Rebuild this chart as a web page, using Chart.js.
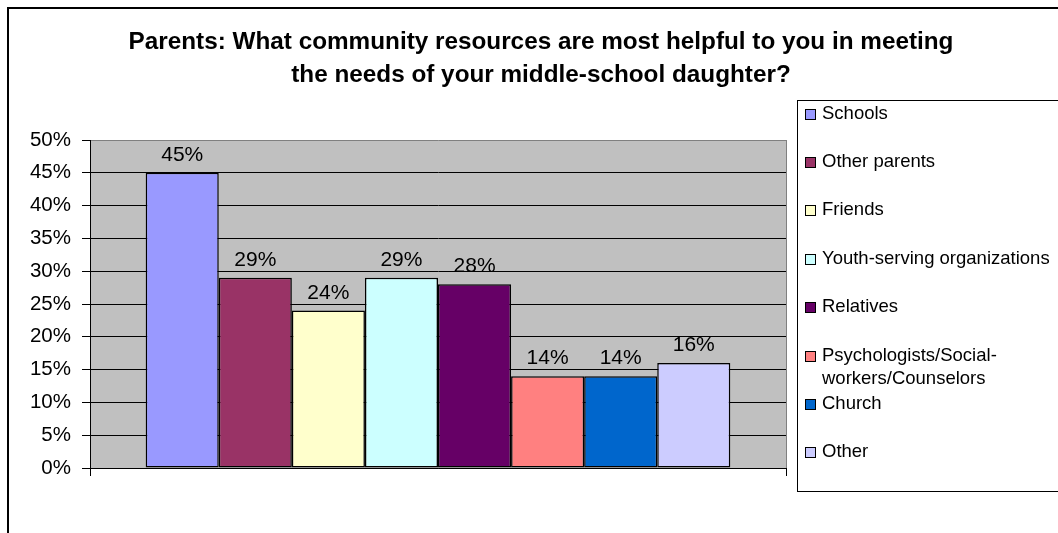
<!DOCTYPE html>
<html>
<head>
<meta charset="utf-8">
<script src="https://cdn.jsdelivr.net/npm/chart.js@4.4.1/dist/chart.umd.min.js"></script>
<style>
html, body { margin: 0; padding: 0; background: #fff; }
#wrap { width: 1058px; height: 533px; }
</style>
</head>
<body>
<div id="wrap"><canvas id="resChart" width="1058" height="533"></canvas></div>
<script>
var titleLines = ['Parents: What community resources are most helpful to you in meeting',
                  'the needs of your middle-school daughter?'];
var resources = ['Schools', 'Other parents', 'Friends', 'Youth-serving organizations', 'Relatives',
                 'Psychologists/Social-workers/Counselors', 'Church', 'Other'];
var percents = [45, 29, 24, 29, 28, 14, 14, 16];
var barColors = ['#9999FF', '#993366', '#FFFFCC', '#CCFFFF', '#660066', '#FF8080', '#0066CC', '#CCCCFF'];
var yMax = 50;
var yStep = 5;

var FONT = '"Liberation Sans", Arial, sans-serif';
Chart.defaults.font.family = FONT;
Chart.defaults.color = '#000';

// grey plot area like the old Excel charts
var plotBackground = {
    id: 'plotBackground',
    beforeDraw: function(chart) {
        var a = chart.chartArea, c = chart.ctx;
        c.save();
        c.fillStyle = '#C0C0C0';
        c.fillRect(a.left, a.top, a.right - a.left, a.bottom - a.top);
        c.restore();
    }
};

// value labels above the bars
var valueLabels = {
    id: 'valueLabels',
    afterDatasetsDraw: function(chart) {
        var c = chart.ctx;
        c.save();
        c.font = '21px ' + FONT;
        c.fillStyle = '#000';
        c.textAlign = 'center';
        c.textBaseline = 'alphabetic';
        chart.data.datasets.forEach(function(ds, i) {
            var bar = chart.getDatasetMeta(i).data[0];
            c.fillText(ds.data[0] + '%', bar.x, bar.y - 12);
        });
        c.restore();
    }
};

function wrapLabel(c, text, maxW) {
    var parts = text.match(/[^-\s]+[-\s]?/g), lines = [], cur = '';
    parts.forEach(function(p) {
        if (cur && c.measureText(cur + p).width > maxW) { lines.push(cur.trim()); cur = p; }
        else cur += p;
    });
    lines.push(cur.trim());
    return lines;
}

// title, outer frame and the boxed legend on the right
var frameAndLegend = {
    id: 'frameAndLegend',
    afterDraw: function(chart) {
        var c = chart.ctx;
        c.save();
        c.strokeStyle = '#000';
        c.lineWidth = 2;
        c.beginPath();
        c.moveTo(8, 533); c.lineTo(8, 8); c.lineTo(1058, 8);
        c.stroke();

        c.font = 'bold 24.3px ' + FONT;
        c.fillStyle = '#000';
        c.textAlign = 'center';
        c.textBaseline = 'alphabetic';
        c.fillText(titleLines[0], 541, 49);
        c.fillText(titleLines[1], 541, 82);

        c.lineWidth = 1;
        c.strokeRect(797.5, 100.5, 300, 391);
        c.font = '18.5px ' + FONT;
        c.textAlign = 'left';
        c.textBaseline = 'middle';
        chart.data.datasets.forEach(function(ds, i) {
            var cy = 113.5 + i * 48.4;
            c.fillStyle = ds.backgroundColor;
            c.fillRect(805, Math.round(cy) - 5, 11, 11);
            c.strokeStyle = '#000';
            c.strokeRect(805.5, Math.round(cy) - 4.5, 10, 10);
            c.fillStyle = '#000';
            wrapLabel(c, ds.label, 234).forEach(function(line, k) {
                c.fillText(line, 822, cy + k * 23);
            });
        });
        c.restore();
    }
};

var ctx = document.getElementById('resChart').getContext('2d');
var chart = new Chart(ctx, {
    type: 'bar',
    data: {
        labels: [''],
        datasets: resources.map(function(name, i) {
            return {
                label: name,
                data: [percents[i]],
                backgroundColor: barColors[i],
                borderColor: '#000',
                borderWidth: 1.5,
                borderSkipped: false,
                categoryPercentage: 0.84,
                barPercentage: 1
            };
        })
    },
    options: {
        responsive: false,
        animation: false,
        layout: { padding: { left: 0, top: 140, right: 272, bottom: 55 } },
        plugins: {
            legend: { display: false },
            title: { display: false },
            tooltip: { enabled: false }
        },
        scales: {
            x: {
                ticks: { display: false },
                grid: { offset: true, color: '#808080', tickColor: '#000', tickLength: 8 },
                border: { color: '#000' },
                afterFit: function(s) { s.height = 10; }
            },
            y: {
                min: 0,
                max: yMax,
                ticks: {
                    stepSize: yStep,
                    padding: 11,
                    font: { size: 20.5 },
                    callback: function(v) { return v + '%'; }
                },
                grid: {
                    color: function(c) { return c.tick && c.tick.value === yMax ? '#808080' : '#000'; },
                    tickColor: '#000',
                    tickLength: 8
                },
                border: { color: '#000' },
                afterFit: function(s) { s.width = 90; }
            }
        }
    },
    plugins: [plotBackground, valueLabels, frameAndLegend]
});
</script>
</body>
</html>
